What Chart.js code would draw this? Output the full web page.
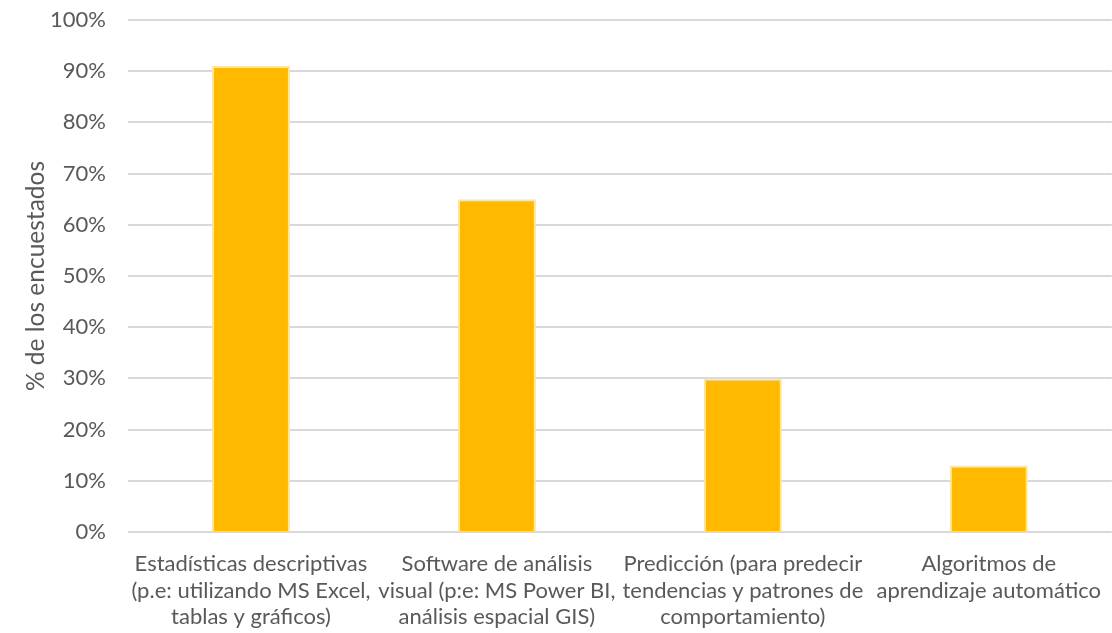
<!DOCTYPE html>
<html>
<head>
<meta charset="utf-8">
<script src="https://cdn.jsdelivr.net/npm/chart.js@4"></script>
<style>
  html, body { margin: 0; padding: 0; background: #fff; }
  #wrap { width: 1112px; height: 633px; }
</style>
</head>
<body>
<div id="wrap"><canvas id="usoChart" width="1112" height="633"></canvas></div>
<script>
const categories = [
    ["Estadísticas descriptivas", "(p.e: utilizando MS Excel,", "tablas y gráficos)"],
    ["Software de análisis", "visual (p:e: MS Power BI,", "análisis espacial GIS)"],
    ["Predicción (para predecir", "tendencias y patrones de", "comportamiento)"],
    ["Algoritmos de", "aprendizaje automático"]
];
const percentValues = [91, 65, 30, 13];
const yTicks = [0, 10, 20, 30, 40, 50, 60, 70, 80, 90, 100];

const textColor = "#595959";
const fontFamily = "Lato, 'Open Sans', sans-serif";

const ctx = document.getElementById('usoChart').getContext('2d');

new Chart(ctx, {
    type: 'bar',
    data: {
        labels: categories,
        datasets: [{
            label: "% de los encuestados",
            data: percentValues,
            backgroundColor: "#FFB900",
            borderColor: "#FFE699",
            borderWidth: 2,
            categoryPercentage: 1,
            barPercentage: 0.317
        }]
    },
    options: {
        responsive: false,
        animation: false,
        layout: { padding: 0 },
        plugins: {
            legend: { display: false },
            tooltip: { enabled: false }
        },
        scales: {
            x: {
                grid: { display: false },
                border: { display: false },
                ticks: {
                    color: textColor,
                    font: { family: fontFamily, size: 22, lineHeight: 1.2 },
                    maxRotation: 0,
                    minRotation: 0,
                    autoSkip: false,
                    padding: 11
                },
                afterFit: (axis) => { axis.height = 101; }
            },
            y: {
                min: 0,
                max: 100,
                afterBuildTicks: (axis) => {
                    axis.ticks = yTicks.map(v => ({ value: v }));
                },
                grid: {
                    color: "#D9D9D9",
                    lineWidth: 2,
                    drawTicks: false
                },
                border: { display: false },
                ticks: {
                    color: textColor,
                    font: { family: fontFamily, size: 22 },
                    padding: 22,
                    callback: (v) => v + "%"
                },
                title: {
                    display: true,
                    text: "% de los encuestados",
                    color: textColor,
                    font: { family: fontFamily, size: 24.5 },
                    padding: { top: 21, bottom: 0 }
                },
                afterFit: (axis) => {
                    axis.width = 128;
                    axis.paddingTop = 20;
                    axis.paddingBottom = 13;
                }
            }
        }
    }
});
</script>
</body>
</html>
